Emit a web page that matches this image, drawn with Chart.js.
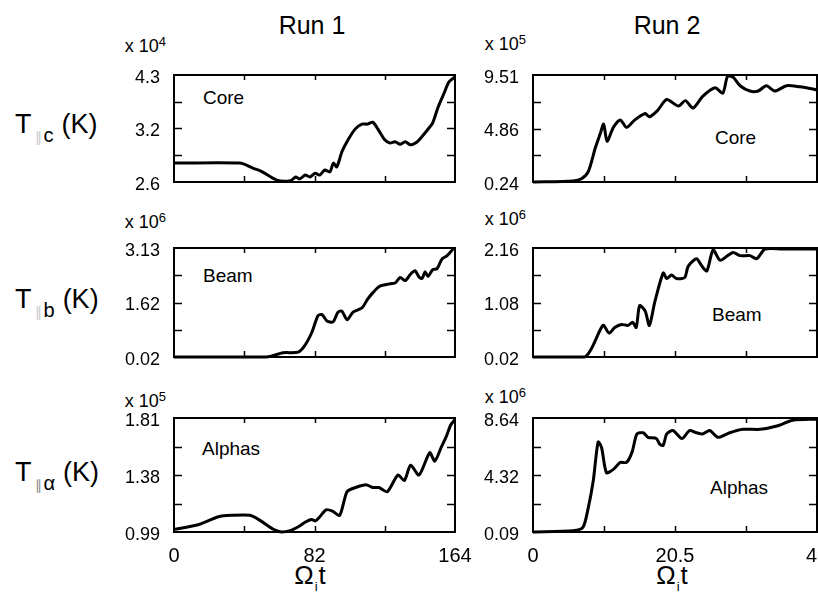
<!DOCTYPE html>
<html>
<head>
<meta charset="utf-8">
<script src="https://cdn.jsdelivr.net/npm/chart.js@4"></script>
<style>
  html, body { margin: 0; padding: 0; background: #fff; }
  body { width: 818px; height: 597px; position: relative; overflow: hidden; font-family: "Liberation Sans", Arial, sans-serif; color: #000; }
  canvas { position: absolute; }
  .t { position: absolute; white-space: nowrap; line-height: 1; transform: translate(-50%, -50%); }
  .run { font-size: 25px; }
  .ytitle { font-size: 27px; transform: translate(0, -50%); }
  .ytitle sub { font-size: 20px; vertical-align: -0.45em; margin-left: 3px; margin-right: 8px; }
  .ytitle .par { color: #c8c8c8; font-size: 14px; margin-right: 2px; }
  .exp { font-size: 18px; transform: translate(-100%, -50%); }
  .exp sup { font-size: 13px; vertical-align: 0.5em; }
  .name { font-size: 19px; transform: translate(0, -50%); }
  .omega { font-size: 26px; }
  .omega sub { font-size: 13px; vertical-align: -0.5em; margin: 0 1px; }
</style>
</head>
<body>

<div class="t run" style="left:312px;top:25px">Run 1</div>
<div class="t run" style="left:667px;top:25px">Run 2</div>

<div class="t ytitle" style="left:15px;top:128px">T<sub><span class="par">∥</span>c</sub>(K)</div>
<div class="t ytitle" style="left:15px;top:303px">T<sub><span class="par">∥</span>b</sub>(K)</div>
<div class="t ytitle" style="left:15px;top:476px">T<sub><span class="par" style="color:#888">∥</span>α</sub>(K)</div>

<div class="t exp" style="left:166px;top:45px">x 10<sup>4</sup></div>
<div class="t exp" style="left:526px;top:43px">x 10<sup>5</sup></div>
<div class="t exp" style="left:166px;top:221px">x 10<sup>6</sup></div>
<div class="t exp" style="left:526px;top:218px">x 10<sup>6</sup></div>
<div class="t exp" style="left:166px;top:400px">x 10<sup>5</sup></div>
<div class="t exp" style="left:526px;top:396px">x 10<sup>6</sup></div>

<div class="t name" style="left:203px;top:97px">Core</div>
<div class="t name" style="left:715px;top:137px">Core</div>
<div class="t name" style="left:203px;top:275px">Beam</div>
<div class="t name" style="left:712px;top:314px">Beam</div>
<div class="t name" style="left:202px;top:448px">Alphas</div>
<div class="t name" style="left:710px;top:487px">Alphas</div>

<div class="t omega" style="left:310px;top:577px">Ω<sub>i</sub>t</div>
<div class="t omega" style="left:672px;top:577px">Ω<sub>i</sub>t</div>

<script>
// time axes (Omega_i t) and temperatures, in units of the "x 10^n" factor
const run1Ticks = ["0", "82", "164"];
const run2Ticks = ["0", "20.5", "41"];

const core1Labels = ["2.6", "3.2", "4.3"];
const core1T = [0, 38.5, 46, 51, 60, 68, 71, 73.5, 76.5, 79.4, 82.3, 85, 88, 91, 93, 95, 98, 101.6, 105.7, 109.7, 113, 116, 119, 123, 126, 129, 132, 135, 138, 142, 145, 148, 151, 154, 157.6, 160.5, 164];
const core1Temp = [2.90, 2.90, 2.82, 2.77, 2.63, 2.62, 2.68, 2.65, 2.71, 2.68, 2.74, 2.71, 2.79, 2.76, 2.90, 2.84, 3.08, 3.27, 3.44, 3.52, 3.52, 3.55, 3.44, 3.27, 3.22, 3.24, 3.20, 3.24, 3.19, 3.24, 3.33, 3.43, 3.54, 3.78, 4.01, 4.19, 4.27];

const core2Labels = ["0.24", "4.86", "9.51"];
const core2T = [0, 5.8, 7, 8, 9, 9.7, 10.2, 10.7, 11.6, 12.6, 13.5, 14.7, 16.2, 16.8, 18, 19.3, 21, 22, 23.1, 24.5, 26.3, 27.4, 28.1, 28.9, 29.9, 31.3, 32.5, 33.7, 34.9, 36.6, 38.5, 40.4, 41];
const core2Temp = [0.24, 0.33, 0.52, 1.17, 3.21, 4.41, 5.25, 3.76, 4.97, 5.62, 4.97, 5.62, 6.17, 5.89, 6.45, 7.38, 6.82, 7.29, 6.64, 7.66, 8.40, 7.93, 9.42, 9.32, 8.58, 8.12, 8.12, 8.58, 8.12, 8.58, 8.49, 8.30, 8.21];

const beam1Labels = ["0.02", "1.62", "3.13"];
const beam1T = [0, 54, 63.6, 72.4, 76.5, 80.6, 84, 86.4, 89.3, 92.8, 95.7, 98, 101, 104.5, 109.7, 113, 116, 120, 125, 129, 132, 135, 138, 140.7, 143, 144.8, 146.5, 148.3, 151, 153.5, 156.5, 159.4, 162.9, 164];
const beam1Temp = [0.02, 0.02, 0.14, 0.16, 0.36, 0.74, 1.20, 1.23, 1.05, 1.02, 1.30, 1.33, 1.08, 1.30, 1.42, 1.67, 1.85, 2.04, 2.10, 2.13, 2.29, 2.20, 2.38, 2.48, 2.30, 2.26, 2.45, 2.32, 2.51, 2.54, 2.82, 2.91, 3.10, 3.13];

const beam2Labels = ["0.02", "1.08", "2.16"];
const beam2T = [0, 7.5, 10.1, 11, 11.8, 12.8, 13.7, 14.4, 14.9, 15.4, 16.2, 16.8, 17.6, 18.8, 19.3, 20, 20.7, 21.9, 22.4, 23.6, 24.4, 25.1, 26, 27, 28.1, 28.9, 29.9, 31.3, 32.3, 33.5, 36, 41];
const beam2Temp = [0.02, 0.02, 0.64, 0.49, 0.60, 0.66, 0.64, 0.70, 0.60, 1.03, 0.92, 0.64, 1.11, 1.67, 1.56, 1.63, 1.56, 1.58, 1.80, 1.95, 1.80, 1.71, 2.12, 1.92, 2.01, 2.07, 2.01, 2.01, 1.95, 2.14, 2.14, 2.14];

const alpha1Labels = ["0.99", "1.38", "1.81"];
const alpha1T = [0, 13.6, 25.9, 33.3, 44.4, 50.6, 58, 62.9, 67.8, 72.8, 76.5, 80.2, 82.6, 85.1, 88.8, 92.5, 96.7, 101, 106, 112, 116, 119.6, 124.5, 130.7, 134.4, 138.1, 143, 149.2, 152.2, 156, 159, 161.5, 164];
const alpha1Temp = [1.01, 1.04, 1.10, 1.11, 1.11, 1.07, 1.01, 0.99, 1.00, 1.03, 1.06, 1.08, 1.07, 1.10, 1.15, 1.14, 1.11, 1.28, 1.31, 1.33, 1.31, 1.31, 1.28, 1.40, 1.36, 1.47, 1.40, 1.56, 1.50, 1.60, 1.68, 1.76, 1.80];

const alpha2Labels = ["0.09", "4.32", "8.64"];
const alpha2T = [0, 5.8, 7.2, 7.9, 8.7, 9.4, 9.9, 10.6, 11.6, 12.6, 13.5, 14.3, 15, 15.9, 16.6, 17.8, 18.3, 18.8, 19.3, 20.2, 21.5, 22.6, 23.6, 24.5, 25.5, 26.7, 28.4, 30.3, 32.8, 35.2, 37.5, 41];
const alpha2Temp = [0.09, 0.18, 0.43, 1.71, 3.94, 6.84, 6.42, 4.54, 4.79, 5.31, 5.31, 6.08, 7.44, 7.53, 7.19, 7.10, 6.67, 6.59, 7.44, 7.70, 7.10, 7.70, 7.53, 7.44, 7.70, 7.19, 7.53, 7.79, 7.79, 8.04, 8.47, 8.55];

// panel boxes on the page
const colLeft = [174, 533];
const colWidth = [281, 284];
const rowTop = [75, 248, 418];
const rowHeight = [107, 109, 114];
const AXIS_W = 70, PAD_TOP = 12, PAD_RIGHT = 22, PAD_BOTTOM = 16, X_AXIS_H = 36;

const panels = [
  { row: 0, col: 0, t: core1T, temp: core1Temp, yLabels: core1Labels, xLabels: run1Ticks },
  { row: 0, col: 1, t: core2T, temp: core2Temp, yLabels: core2Labels, xLabels: run2Ticks },
  { row: 1, col: 0, t: beam1T, temp: beam1Temp, yLabels: beam1Labels, xLabels: run1Ticks },
  { row: 1, col: 1, t: beam2T, temp: beam2Temp, yLabels: beam2Labels, xLabels: run2Ticks },
  { row: 2, col: 0, t: alpha1T, temp: alpha1Temp, yLabels: alpha1Labels, xLabels: run1Ticks },
  { row: 2, col: 1, t: alpha2T, temp: alpha2Temp, yLabels: alpha2Labels, xLabels: run2Ticks },
];

const quarters = (min, max) => [0, 1, 2, 3, 4].map(i => min + i * (max - min) / 4);

// box with inward tick marks, like the original plots
const framePlugin = {
  id: "frame",
  afterDraw(chart) {
    const { ctx, chartArea: a, scales: { x, y } } = chart;
    ctx.save();
    ctx.strokeStyle = "#000";
    ctx.lineWidth = 2;
    ctx.strokeRect(a.left, a.top, a.right - a.left, a.bottom - a.top);
    ctx.lineWidth = 1.5;
    ctx.beginPath();
    quarters(y.min, y.max).slice(1, 4).forEach(v => {
      const py = Math.round(y.getPixelForValue(v)) + 0.5;
      ctx.moveTo(a.left, py); ctx.lineTo(a.left + 8, py);
      ctx.moveTo(a.right - 8, py); ctx.lineTo(a.right, py);
    });
    quarters(x.min, x.max).slice(1, 4).forEach(v => {
      const px = Math.round(x.getPixelForValue(v)) + 0.5;
      ctx.moveTo(px, a.bottom); ctx.lineTo(px, a.bottom - 6);
      ctx.moveTo(px, a.top); ctx.lineTo(px, a.top + 5);
    });
    ctx.stroke();
    ctx.restore();
  }
};

function makePanel(p) {
  const bottomRow = p.row === 2;
  const w = colWidth[p.col], h = rowHeight[p.row];
  const canvas = document.createElement("canvas");
  const cw = AXIS_W + w + PAD_RIGHT;
  const ch = PAD_TOP + h + (bottomRow ? X_AXIS_H : PAD_BOTTOM);
  canvas.width = cw; canvas.height = ch;
  canvas.style.left = (colLeft[p.col] - AXIS_W) + "px";
  canvas.style.top = (rowTop[p.row] - PAD_TOP) + "px";
  canvas.style.width = cw + "px"; canvas.style.height = ch + "px";
  document.body.appendChild(canvas);

  const yMin = parseFloat(p.yLabels[0]), yMax = parseFloat(p.yLabels[2]);
  const xMax = parseFloat(p.xLabels[2]);

  new Chart(canvas, {
    type: "line",
    data: {
      datasets: [{
        data: p.t.map((t, i) => ({ x: t, y: p.temp[i] })),
        borderColor: "#000",
        borderWidth: 3,
        pointRadius: 0,
        tension: 0.25,
        clip: 4,
      }],
    },
    options: {
      responsive: false,
      animation: false,
      devicePixelRatio: 1,
      layout: { padding: { left: 0, top: PAD_TOP, right: PAD_RIGHT, bottom: bottomRow ? 0 : PAD_BOTTOM } },
      plugins: { legend: { display: false }, tooltip: { enabled: false } },
      scales: {
        x: {
          type: "linear", min: 0, max: xMax,
          display: bottomRow,
          afterBuildTicks: s => { s.ticks = quarters(0, xMax).map(v => ({ value: v })); },
          afterFit: s => {
            s.height = bottomRow ? X_AXIS_H : 0;
            s.paddingLeft = 0; s.paddingRight = 0;
          },
          grid: { display: false },
          border: { display: false },
          ticks: {
            autoSkip: false, maxRotation: 0, padding: 4, color: "#000",
            font: { family: "Liberation Sans", size: 20 },
            callback: (v, i) => (i % 2 === 0 ? p.xLabels[i / 2] : ""),
          },
        },
        y: {
          type: "linear", min: yMin, max: yMax,
          afterBuildTicks: s => { s.ticks = quarters(yMin, yMax).map(v => ({ value: v })); },
          afterFit: s => { s.width = AXIS_W; s.paddingTop = 0; s.paddingBottom = 0; },
          grid: { display: false },
          border: { display: false },
          ticks: {
            autoSkip: false, padding: 6, labelOffset: 3, color: "#000",
            font: { family: "Liberation Sans", size: 18 },
            callback: (v, i) => (i % 2 === 0 ? p.yLabels[i / 2] : ""),
          },
        },
      },
    },
    plugins: [framePlugin],
  });
}

panels.forEach(makePanel);
</script>
</body>
</html>
